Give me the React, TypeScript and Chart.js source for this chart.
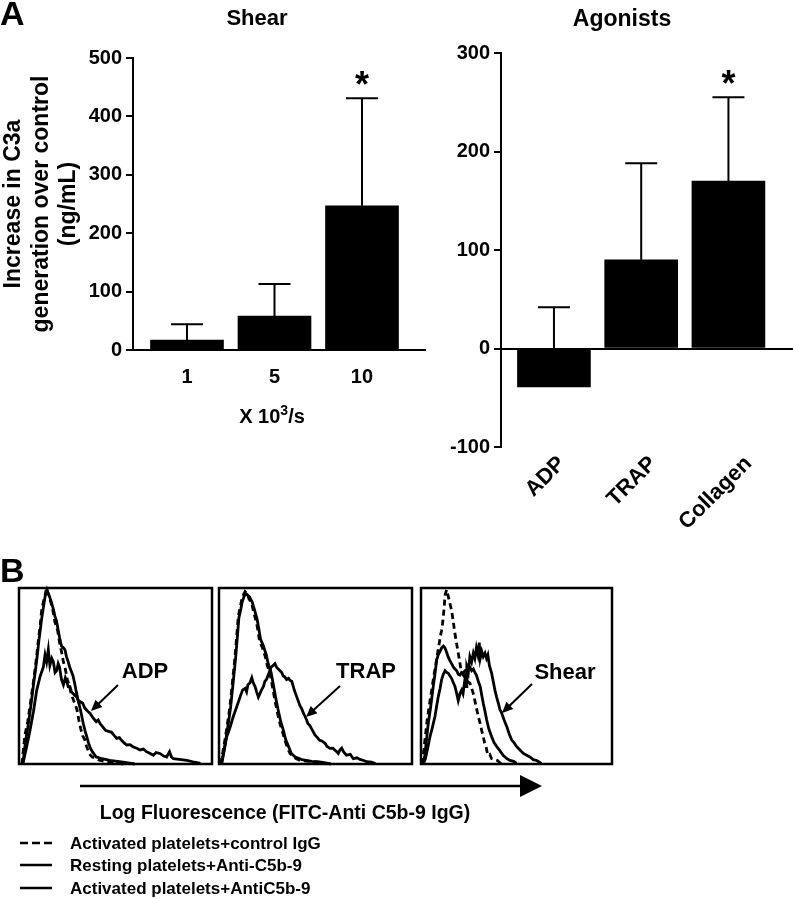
import React, { useEffect, useRef } from "react";
import { Chart, registerables } from "chart.js";

Chart.register(...registerables);

const FONT_FAMILY = "'Liberation Sans', Arial, Helvetica, sans-serif";

// ---------------- Panel A data ----------------
const shearCategories = ["1", "5", "10"];
const shearMeans = [17, 58, 247];
const shearSEM = [27, 55, 184];
const shearSignificant = [false, false, true];
const shearYTicks = [0, 100, 200, 300, 400, 500];
const shearYTitle = ["Increase in C3a", "generation over control", "(ng/mL)"];

const agonistCategories = ["ADP", "TRAP", "Collagen"];
const agonistMeans = [-39, 90, 170];
const agonistSEM = [81, 98, 85];
const agonistSignificant = [false, false, true];
const agonistYTicks = [-100, 0, 100, 200, 300];

// ---------------- Panel B data (x: % of log-fluorescence range, y: % of max count) ----------------
const adpControlIgG: number[][] = [
  [1.5, 0], [3, 16], [4.5, 24], [5.7, 33], [7, 43], [8, 51], [9, 60], [10, 70], [11, 79], [11.7, 87], [12.6, 92],
  [13.5, 96], [14.3, 100], [15, 97], [15.5, 96], [16.5, 92], [17.6, 87], [18.5, 81], [20, 76], [21, 69], [22, 64],
  [23, 58], [24, 54], [25, 48], [26, 45], [27, 40], [28, 37], [29, 34], [30, 31], [31, 25], [32, 20], [33, 16],
  [34, 14], [35, 10], [36, 7], [37, 5], [38, 4], [40, 3], [42, 2], [45, 1.5], [47, 1], [50, 0.8], [54, 0],
];
const adpResting: number[][] = [
  [2, 0], [3.5, 14], [4.5, 20], [5.5, 28], [6.5, 36], [7.5, 45], [8.5, 53], [9.5, 62], [10.3, 70], [11, 76],
  [11.8, 83], [12.5, 88], [13.5, 95], [14.5, 99], [15.5, 96], [16.5, 93], [17.8, 88], [18.6, 84], [19.5, 81],
  [20.3, 76], [21, 72], [22, 67], [23, 66], [23.8, 65], [24.6, 61], [25.5, 58], [26.3, 55], [27, 53], [28, 50],
  [29, 45], [29.5, 42], [30.7, 36], [32, 30], [33.3, 23], [34.2, 19], [35, 16], [36, 12], [37, 9], [38, 7],
  [40, 4], [43, 3], [47, 2], [54, 1], [60, 0],
];
const adpActivated: number[][] = [
  [2.2, 1], [4, 10], [5.7, 19], [7.5, 30], [9.2, 42], [11, 50], [12.6, 55], [13.5, 62], [14.3, 58], [15.2, 65],
  [16, 56], [17, 60], [17.8, 58], [18.7, 52], [19.5, 53], [20.3, 57], [21, 55], [22, 48], [23, 45], [24, 49],
  [24.7, 47], [25.5, 44], [26.4, 44], [27.2, 41], [28, 40], [29, 39], [30, 38], [31, 35], [31.6, 35.5], [33, 34.5],
  [34, 32], [35, 30.7], [36, 29.5], [36.8, 28.8], [38.5, 26], [40, 24], [41, 25], [42, 23], [43.5, 21], [45, 19],
  [46.5, 18.5], [48, 18], [49.5, 16], [50.6, 14.6], [52, 15], [53, 13.6], [54.5, 12], [55.8, 10.8], [57.5, 11],
  [59, 9.8], [61, 9], [62.7, 8], [64.5, 8.5], [66, 7], [68, 6], [69.6, 5], [71, 6.5], [73, 6], [75, 4.5],
  [76.5, 4], [78, 7], [79, 4], [80, 3], [84, 2.5], [87, 2], [91, 1], [94, 0.4],
];

const trapControlIgG: number[][] = [
  [0.9, 0], [2.5, 10], [4, 20], [5.7, 33], [7, 47], [8.3, 61], [9.2, 73], [10, 84], [11, 89], [11.7, 93],
  [12.6, 96], [13.5, 98], [14.5, 97], [15.5, 94], [17, 91], [18, 86], [19.5, 80], [20.3, 75], [21, 70],
  [22.5, 66], [24, 61], [25, 56], [26.4, 51.5], [27.5, 45], [29, 36], [30.3, 29], [31.6, 23], [33, 18],
  [34, 14], [35.5, 9], [36.8, 6], [38.5, 4], [42, 2], [47, 1.5], [52, 1], [56, 0],
];
const trapResting: number[][] = [
  [1.2, 0], [2.8, 9], [4.3, 19], [6, 32], [7.3, 46], [8.6, 60], [9.5, 72], [10.3, 83], [11.3, 88], [12, 92],
  [12.9, 95], [13.8, 97], [14.8, 96], [15.8, 95], [17.2, 92], [18.3, 88], [19.8, 82], [20.6, 77], [21.5, 71],
  [23, 67], [24.5, 62], [25.5, 57], [27, 52], [28, 46], [29.5, 37], [30.8, 30], [32, 24], [33.4, 19],
  [34.5, 14], [36, 10], [37.5, 6], [39.5, 4], [43, 2.5], [48, 1.5], [53, 1], [58, 0],
];
const trapActivated: number[][] = [
  [1.5, 0.5], [4, 15.5], [5.5, 20], [7.4, 27], [9, 32], [10.9, 38], [12.2, 42], [13.5, 43], [14.3, 41], [15, 45],
  [16, 46], [17, 49], [17.8, 46], [18.7, 44], [19.5, 41], [20.4, 38], [21.2, 40], [22, 42], [23, 44], [23.8, 47],
  [24.6, 48], [25.5, 50.5], [26.3, 53], [27, 55], [28, 56], [29, 57], [29.8, 55], [30.7, 54], [31.6, 53],
  [32.5, 52], [33.3, 50], [34, 49.6], [35, 48], [36, 48.7], [36.8, 47.5], [37.7, 47], [38.5, 44], [39, 42],
  [40, 39], [41, 36], [42, 33], [42.8, 31.6], [43.7, 29], [44.6, 27], [45.4, 25], [46, 23], [47, 22], [48, 20],
  [49, 18], [49.7, 16.5], [51, 15], [52, 13.6], [53.5, 13], [55, 11.7], [56, 10], [57.5, 8.9], [59, 9], [60, 8],
  [61, 7], [61.8, 6], [62.7, 8], [63.6, 9], [64.5, 7], [66, 5], [68, 5.5], [69.6, 3], [71.5, 3.5], [73, 2.6],
  [75, 2], [76.5, 1.3], [79, 1], [81, 0.3],
];

const shearControlIgG: number[][] = [
  [0.4, 0], [1.5, 8], [3, 23], [4.3, 33], [5.6, 42], [6.7, 50], [7.8, 57], [8.7, 63], [9.6, 69], [10.2, 73],
  [10.8, 76], [11.3, 80], [11.7, 84], [12.2, 90], [12.6, 96], [13.4, 99], [14.1, 96], [14.8, 93], [15.4, 90],
  [16, 87.5], [17, 80], [17.8, 74], [18.7, 68], [19.5, 63], [20.3, 58], [21, 53], [22, 51], [23, 49],
  [24.3, 47], [25.6, 46], [26.5, 43], [27.4, 40], [28.2, 36], [29, 32], [30, 27], [31, 23], [31.8, 19],
  [32.6, 15.5], [33.3, 12], [34, 10], [34.6, 7], [35, 5], [36, 5.5], [37, 3], [38.5, 2.5], [40, 2], [41, 1],
  [42, 0],
];
const shearResting: number[][] = [
  [1.2, 0], [2, 5], [3.8, 23], [5, 32], [6.4, 44], [7.3, 51], [8.2, 59], [9, 62], [10, 64], [10.8, 66],
  [11.7, 67], [12.5, 66], [13.4, 63.5], [14.2, 61], [15, 59], [16, 57], [17, 55], [17.8, 54], [18.7, 53],
  [19.5, 51], [20.4, 50.5], [21.2, 52], [22, 51.5], [23, 53], [24, 53], [24.8, 56], [25.6, 55], [26.5, 53],
  [27.4, 54], [28.2, 52], [29, 50.5], [30, 47], [31, 44], [31.8, 39], [32.6, 34.5], [33.5, 30], [34.4, 25],
  [35.5, 20], [37, 15.5], [38.3, 12], [39.6, 10], [41, 8], [43, 5], [45, 3], [46.6, 2], [48.5, 1.5], [50, 0.5],
];
const shearActivated: number[][] = [
  [1.2, 0], [2.3, 3], [3.5, 9], [4.7, 15.5], [6, 21], [7.3, 27], [8.2, 33], [9, 38], [10, 43], [10.8, 48],
  [11.7, 51], [12.6, 53], [13.4, 52], [14.3, 51.5], [15.2, 50], [16, 48.7], [17, 46], [17.8, 44], [18.7, 40],
  [19.5, 36], [20.4, 40], [21.3, 42], [22, 40], [23, 48], [23.6, 44], [24, 55], [24.8, 52], [25.6, 61],
  [26.5, 58], [27.4, 63], [28.2, 60], [29, 66], [29.8, 62], [30.5, 69], [31, 60], [31.8, 64], [32.6, 61],
  [33.5, 63], [34.3, 60], [35, 62], [35.8, 56], [37, 51.5], [37.8, 47], [38.7, 42], [39.6, 38], [40.5, 34.5],
  [41.3, 31], [42, 29.7], [43.5, 25], [45, 21], [46.2, 17], [47.5, 13.6], [48.8, 12], [50, 10], [51.8, 8],
  [53.6, 6], [55.3, 5], [57, 4], [58.8, 2.5], [60.6, 2], [62, 1], [63, 0.3],
];

const histogramLabels = ["ADP", "TRAP", "Shear"];
const legendLabels = [
  "Activated platelets+control IgG",
  "Resting platelets+Anti-C5b-9",
  "Activated platelets+AntiC5b-9",
];

// ---------------- Layout ----------------
type BarSpec = {
  cats: string[];
  means: number[];
  sem: number[];
  sig: boolean[];
  yTicks: number[];
  left: number;
  top: number;
  width: number;
  height: number;
  padTop: number;
  padRight: number;
  yAxisWidth: number;
  xAxisHeight: number;
  xMin: number;
  xMax: number;
  rotate: boolean;
  zeroLine: boolean;
  yTitle?: string[];
  labelPadding: number;
  labelShiftPx: number[];
  labelSize: number;
};

function BarChart({ spec }: { spec: BarSpec }) {
  const ref = useRef<HTMLCanvasElement>(null);
  useEffect(() => {
    const s = spec;
    const errorPlugin = {
      id: "errorBars",
      beforeDatasetsDraw(chart: any) {
        const ctx = chart.ctx;
        const y = chart.scales.y;
        const meta = chart.getDatasetMeta(0);
        ctx.save();
        ctx.strokeStyle = "#000";
        ctx.fillStyle = "#000";
        ctx.lineWidth = 2;
        s.means.forEach((m, i) => {
          const el = meta.data[i];
          if (!el) return;
          const x = el.x;
          const y0 = y.getPixelForValue(m);
          const y1 = y.getPixelForValue(m + s.sem[i]);
          ctx.beginPath();
          ctx.moveTo(x, y0);
          ctx.lineTo(x, y1);
          ctx.moveTo(x - 16, y1);
          ctx.lineTo(x + 16, y1);
          ctx.stroke();
          if (s.sig[i]) {
            ctx.font = `bold 36px ${FONT_FAMILY}`;
            ctx.textAlign = "center";
            ctx.textBaseline = "alphabetic";
            ctx.fillText("*", x, y1 - 1);
          }
        });
        ctx.restore();
      },
    };
    const tickFont = { family: FONT_FAMILY, size: 20, weight: "bold" as const };
    const chart = new Chart(ref.current as HTMLCanvasElement, {
      type: "bar",
      data: {
        datasets: [
          {
            data: s.cats.map((_, i) => ({ x: i, y: s.means[i] })),
            backgroundColor: "#000",
            borderWidth: 0,
            barThickness: 73,
          } as any,
        ],
      },
      options: {
        responsive: false,
        animation: false,
        devicePixelRatio: 1,
        layout: { padding: { top: s.padTop, right: s.padRight, left: 0, bottom: 0 } },
        plugins: { legend: { display: false }, tooltip: { enabled: false }, title: { display: false } },
        scales: {
          x: {
            type: "linear",
            min: s.xMin,
            max: s.xMax,
            offset: false,
            afterBuildTicks: (sc: any) => {
              const pxPerUnit = (sc.right - sc.left) / (s.xMax - s.xMin) || 87;
              sc.ticks = s.cats.map((_, i) => ({ value: i + (s.labelShiftPx[i] || 0) / pxPerUnit }));
            },
            afterFit: (sc: any) => {
              sc.height = s.xAxisHeight;
            },
            grid: { display: false, drawTicks: false, offset: false },
            border: { display: !s.zeroLine, color: "#000", width: 2 },
            ticks: {
              autoSkip: false,
              maxRotation: s.rotate ? 45 : 0,
              minRotation: s.rotate ? 45 : 0,
              padding: s.labelPadding,
              color: "#000",
              font: { family: FONT_FAMILY, size: s.labelSize, weight: "bold" },
              callback: (_v: any, idx: number) => s.cats[idx] ?? "",
            },
          },
          y: {
            type: "linear",
            min: s.yTicks[0],
            max: s.yTicks[s.yTicks.length - 1],
            afterBuildTicks: (sc: any) => {
              sc.ticks = s.yTicks.map((v) => ({ value: v }));
            },
            afterFit: (sc: any) => {
              sc.width = s.yAxisWidth;
            },
            grid: {
              drawOnChartArea: s.zeroLine,
              color: (c: any) => (c.tick && c.tick.value === 0 ? "#000" : "rgba(0,0,0,0)"),
              lineWidth: 2,
              tickColor: "#000",
              tickLength: 7,
              tickWidth: 2,
            },
            border: { display: true, color: "#000", width: 2 },
            ticks: { color: "#000", font: tickFont, padding: 4 },
            title: s.yTitle
              ? {
                  display: true,
                  text: s.yTitle,
                  color: "#000",
                  font: { family: FONT_FAMILY, size: 23, weight: "bold", lineHeight: 1.2 },
                  padding: { top: 0, bottom: 0 },
                }
              : { display: false },
          },
        },
      } as any,
      plugins: [errorPlugin],
    });
    return () => chart.destroy();
  }, [spec]);
  return (
    <canvas
      ref={ref}
      width={spec.width}
      height={spec.height}
      style={{ position: "absolute", left: spec.left, top: spec.top, width: spec.width, height: spec.height }}
    />
  );
}

type Curve = { points: number[][]; dashed: boolean };
type Box = { left: number; top: number; width: number; height: number };

function Histogram({ box, curves }: { box: Box; curves: Curve[] }) {
  const ref = useRef<HTMLCanvasElement>(null);
  const pad = 3;
  useEffect(() => {
    const framePlugin = {
      id: "frame",
      afterDraw(chart: any) {
        const { ctx, chartArea } = chart;
        ctx.save();
        ctx.strokeStyle = "#000";
        ctx.lineWidth = 2.5;
        ctx.strokeRect(chartArea.left, chartArea.top, chartArea.right - chartArea.left, chartArea.bottom - chartArea.top);
        ctx.restore();
      },
    };
    const chart = new Chart(ref.current as HTMLCanvasElement, {
      type: "line",
      data: {
        datasets: curves.map((c) => ({
          data: c.points.map(([x, y]) => ({ x, y })),
          borderColor: "#000",
          borderWidth: 2.8,
          borderDash: c.dashed ? [6, 4] : [],
          pointRadius: 0,
          fill: false,
          tension: 0,
          clip: 3,
        })),
      },
      options: {
        responsive: false,
        animation: false,
        devicePixelRatio: 1,
        layout: { padding: pad },
        plugins: { legend: { display: false }, tooltip: { enabled: false } },
        scales: {
          x: { type: "linear", min: 0, max: 100, display: false },
          y: { type: "linear", min: 0, max: 100, display: false },
        },
      } as any,
      plugins: [framePlugin],
    });
    return () => chart.destroy();
  }, [box, curves]);
  return (
    <canvas
      ref={ref}
      width={box.width + pad * 2}
      height={box.height + pad * 2}
      style={{
        position: "absolute",
        left: box.left - pad,
        top: box.top - pad,
        width: box.width + pad * 2,
        height: box.height + pad * 2,
      }}
    />
  );
}

function Txt({
  x,
  y,
  size,
  center,
  children,
}: {
  x: number;
  y: number;
  size: number;
  center?: boolean;
  children: React.ReactNode;
}) {
  return (
    <div
      style={{
        position: "absolute",
        left: x,
        top: y,
        transform: center ? "translate(-50%, -50%)" : "translateY(-50%)",
        fontFamily: FONT_FAMILY,
        fontWeight: "bold",
        fontSize: size,
        lineHeight: 1,
        whiteSpace: "nowrap",
        color: "#000",
      }}
    >
      {children}
    </div>
  );
}

const shearSpec: BarSpec = {
  cats: shearCategories,
  means: shearMeans,
  sem: shearSEM,
  sig: shearSignificant,
  yTicks: shearYTicks,
  left: 0,
  top: 0,
  width: 440,
  height: 440,
  padTop: 58,
  padRight: 15,
  yAxisWidth: 133,
  xAxisHeight: 90,
  xMin: -0.617,
  xMax: 2.72,
  rotate: false,
  zeroLine: false,
  yTitle: shearYTitle,
  labelPadding: 15,
  labelShiftPx: [0, 0, 0],
  labelSize: 20,
};

const agonistSpec: BarSpec = {
  cats: agonistCategories,
  means: agonistMeans,
  sem: agonistSEM,
  sig: agonistSignificant,
  yTicks: agonistYTicks,
  left: 380,
  top: 0,
  width: 414,
  height: 560,
  padTop: 53,
  padRight: 1,
  yAxisWidth: 121,
  xAxisHeight: 113,
  xMin: -0.607,
  xMax: 2.74,
  rotate: true,
  zeroLine: true,
  labelPadding: 4,
  labelShiftPx: [8, 12, 20],
  labelSize: 22,
};

const histBoxes: Box[] = [
  { left: 19, top: 588, width: 193, height: 176 },
  { left: 219, top: 588, width: 193, height: 176 },
  { left: 421, top: 588, width: 191, height: 176 },
];

const histCurves: Curve[][] = [
  [
    { points: adpResting, dashed: false },
    { points: adpActivated, dashed: false },
    { points: adpControlIgG, dashed: true },
  ],
  [
    { points: trapResting, dashed: false },
    { points: trapActivated, dashed: false },
    { points: trapControlIgG, dashed: true },
  ],
  [
    { points: shearResting, dashed: false },
    { points: shearActivated, dashed: false },
    { points: shearControlIgG, dashed: true },
  ],
];

// label centre, arrow tail, arrow head (page px)
const histAnnotations = [
  { label: [145, 671], tail: [118, 685], head: [91, 711] },
  { label: [366, 671], tail: [340, 686], head: [306, 717] },
  { label: [565, 672], tail: [532, 684], head: [502, 713] },
];

function arrowHead(tail: number[], head: number[], len: number, half: number) {
  const dx = head[0] - tail[0];
  const dy = head[1] - tail[1];
  const l = Math.hypot(dx, dy);
  const ux = dx / l;
  const uy = dy / l;
  const bx = head[0] - ux * len;
  const by = head[1] - uy * len;
  return `${head[0]},${head[1]} ${bx - uy * half},${by + ux * half} ${bx + uy * half},${by - ux * half}`;
}

export default function App() {
  const legendRows = [843, 865, 888];
  return (
    <div
      style={{
        position: "absolute",
        left: 0,
        top: 0,
        width: 794,
        height: 899,
        background: "#fff",
        overflow: "hidden",
      }}
    >
      <BarChart spec={shearSpec} />
      <BarChart spec={agonistSpec} />
      {histBoxes.map((b, i) => (
        <Histogram key={i} box={b} curves={histCurves[i]} />
      ))}

      <svg width={794} height={899} style={{ position: "absolute", left: 0, top: 0, pointerEvents: "none" }}>
        {histAnnotations.map((a, i) => {
          const dx = a.head[0] - a.tail[0];
          const dy = a.head[1] - a.tail[1];
          const l = Math.hypot(dx, dy);
          const ex = a.head[0] - (dx / l) * 8;
          const ey = a.head[1] - (dy / l) * 8;
          return (
            <g key={i}>
              <line x1={a.tail[0]} y1={a.tail[1]} x2={ex} y2={ey} stroke="#000" strokeWidth={2} />
              <polygon points={arrowHead(a.tail, a.head, 11, 5)} fill="#000" />
            </g>
          );
        })}
        <line x1={80} y1={786} x2={525} y2={786} stroke="#000" strokeWidth={2.5} />
        <polygon points="542,786 520,775 520,797" fill="#000" />
        <line x1={20} y1={legendRows[0]} x2={52} y2={legendRows[0]} stroke="#000" strokeWidth={2.5} strokeDasharray="8 4" />
        <line x1={20} y1={legendRows[1]} x2={52} y2={legendRows[1]} stroke="#000" strokeWidth={2.5} />
        <line x1={20} y1={legendRows[2]} x2={52} y2={legendRows[2]} stroke="#000" strokeWidth={2.5} />
      </svg>

      <Txt x={0} y={13} size={34}>A</Txt>
      <Txt x={257} y={18} size={22} center>Shear</Txt>
      <Txt x={622} y={18} size={23} center>Agonists</Txt>
      <Txt x={272} y={416} size={20} center>
        X 10<sup style={{ fontSize: 14, verticalAlign: "8px", lineHeight: 0 }}>3</sup>/s
      </Txt>

      <Txt x={0} y={570} size={34}>B</Txt>
      {histAnnotations.map((a, i) => (
        <Txt key={i} x={a.label[0]} y={a.label[1]} size={22} center>
          {histogramLabels[i]}
        </Txt>
      ))}
      <Txt x={285} y={813} size={19.5} center>
        Log Fluorescence (FITC-Anti C5b-9 IgG)
      </Txt>
      {legendLabels.map((t, i) => (
        <Txt key={i} x={70} y={legendRows[i]} size={17}>
          {t}
        </Txt>
      ))}
    </div>
  );
}
